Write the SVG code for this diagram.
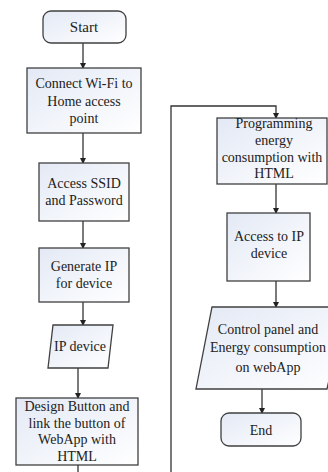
<svg xmlns="http://www.w3.org/2000/svg" width="328" height="472" viewBox="0 0 328 472">
<defs>
<linearGradient id="g" x1="0" y1="0" x2="1" y2="1">
<stop offset="0" stop-color="#e3e9f5"/>
<stop offset="1" stop-color="#ffffff"/>
</linearGradient>
<marker id="ah" markerWidth="6" markerHeight="6" refX="5" refY="3" orient="auto" markerUnits="userSpaceOnUse">
<path d="M0,0 L6,3 L0,6 Z" fill="#222"/>
</marker>
<style>
.n{fill:url(#g);stroke:#404040;stroke-width:1.3}
.t{font-family:"Liberation Serif","Times New Roman",serif;font-size:14px;fill:#222;text-anchor:middle}
.c{fill:none;stroke:#333;stroke-width:1.3}
</style>
</defs>
<rect width="328" height="472" fill="#fff"/>
<g id="connectors">
<path class="c" d="M83,43 V68" marker-end="url(#ah)"/>
<path class="c" d="M83,133 V163" marker-end="url(#ah)"/>
<path class="c" d="M83,221 V248" marker-end="url(#ah)"/>
<path class="c" d="M83,302 V325" marker-end="url(#ah)"/>
<path class="c" d="M78,368 V398" marker-end="url(#ah)"/>
<path class="c" d="M78,465 V472"/>
<path class="c" d="M171,472 V106 H276 V118" marker-end="url(#ah)"/>
<path class="c" d="M276,184 V213" marker-end="url(#ah)"/>
<path class="c" d="M276,281 V307" marker-end="url(#ah)"/>
<path class="c" d="M262,389 V413" marker-end="url(#ah)"/>
</g>
<g id="start">
<rect class="n" x="43" y="11" width="83" height="32" rx="8"/>
<text class="t" x="84" y="32" style="font-size:15px">Start</text>
</g>
<g id="connect">
<rect class="n" x="27" y="68" width="114" height="65"/>
<text class="t" x="84" y="88">Connect Wi-Fi to</text>
<text class="t" x="84" y="106">Home access</text>
<text class="t" x="84" y="123">point</text>
</g>
<g id="ssid">
<rect class="n" x="39" y="163" width="90" height="58"/>
<text class="t" x="84" y="188">Access SSID</text>
<text class="t" x="84" y="205">and Password</text>
</g>
<g id="genip">
<rect class="n" x="39" y="248" width="90" height="54"/>
<text class="t" x="84" y="271">Generate IP</text>
<text class="t" x="84" y="288">for device</text>
</g>
<g id="ipdevice">
<path class="n" d="M53,325 H113 L108,368 H48 Z"/>
<text class="t" x="80" y="351">IP device</text>
</g>
<g id="design">
<rect class="n" x="16" y="398" width="122" height="67"/>
<text class="t" x="77" y="411">Design Button and</text>
<text class="t" x="77" y="428">link the  button of</text>
<text class="t" x="77" y="444">WebApp  with</text>
<text class="t" x="77" y="461">HTML</text>
</g>
<g id="programming">
<rect class="n" x="217" y="118" width="110" height="66"/>
<text class="t" x="274" y="128">Programming</text>
<text class="t" x="274" y="145">energy</text>
<text class="t" x="272" y="162">consumption with</text>
<text class="t" x="274" y="178">HTML</text>
</g>
<g id="accessip">
<rect class="n" x="227" y="213" width="83" height="68"/>
<text class="t" x="269" y="241">Access to IP</text>
<text class="t" x="269" y="258">device</text>
</g>
<g id="control">
<path class="n" d="M212,307 H345 L327,389 H196 Z"/>
<text class="t" x="268" y="334">Control panel and</text>
<text class="t" x="268" y="352">Energy consumption</text>
<text class="t" x="268" y="372">on webApp</text>
</g>
<g id="end">
<rect class="n" x="221" y="413" width="80" height="33" rx="8"/>
<text class="t" x="261" y="435">End</text>
</g>
</svg>
